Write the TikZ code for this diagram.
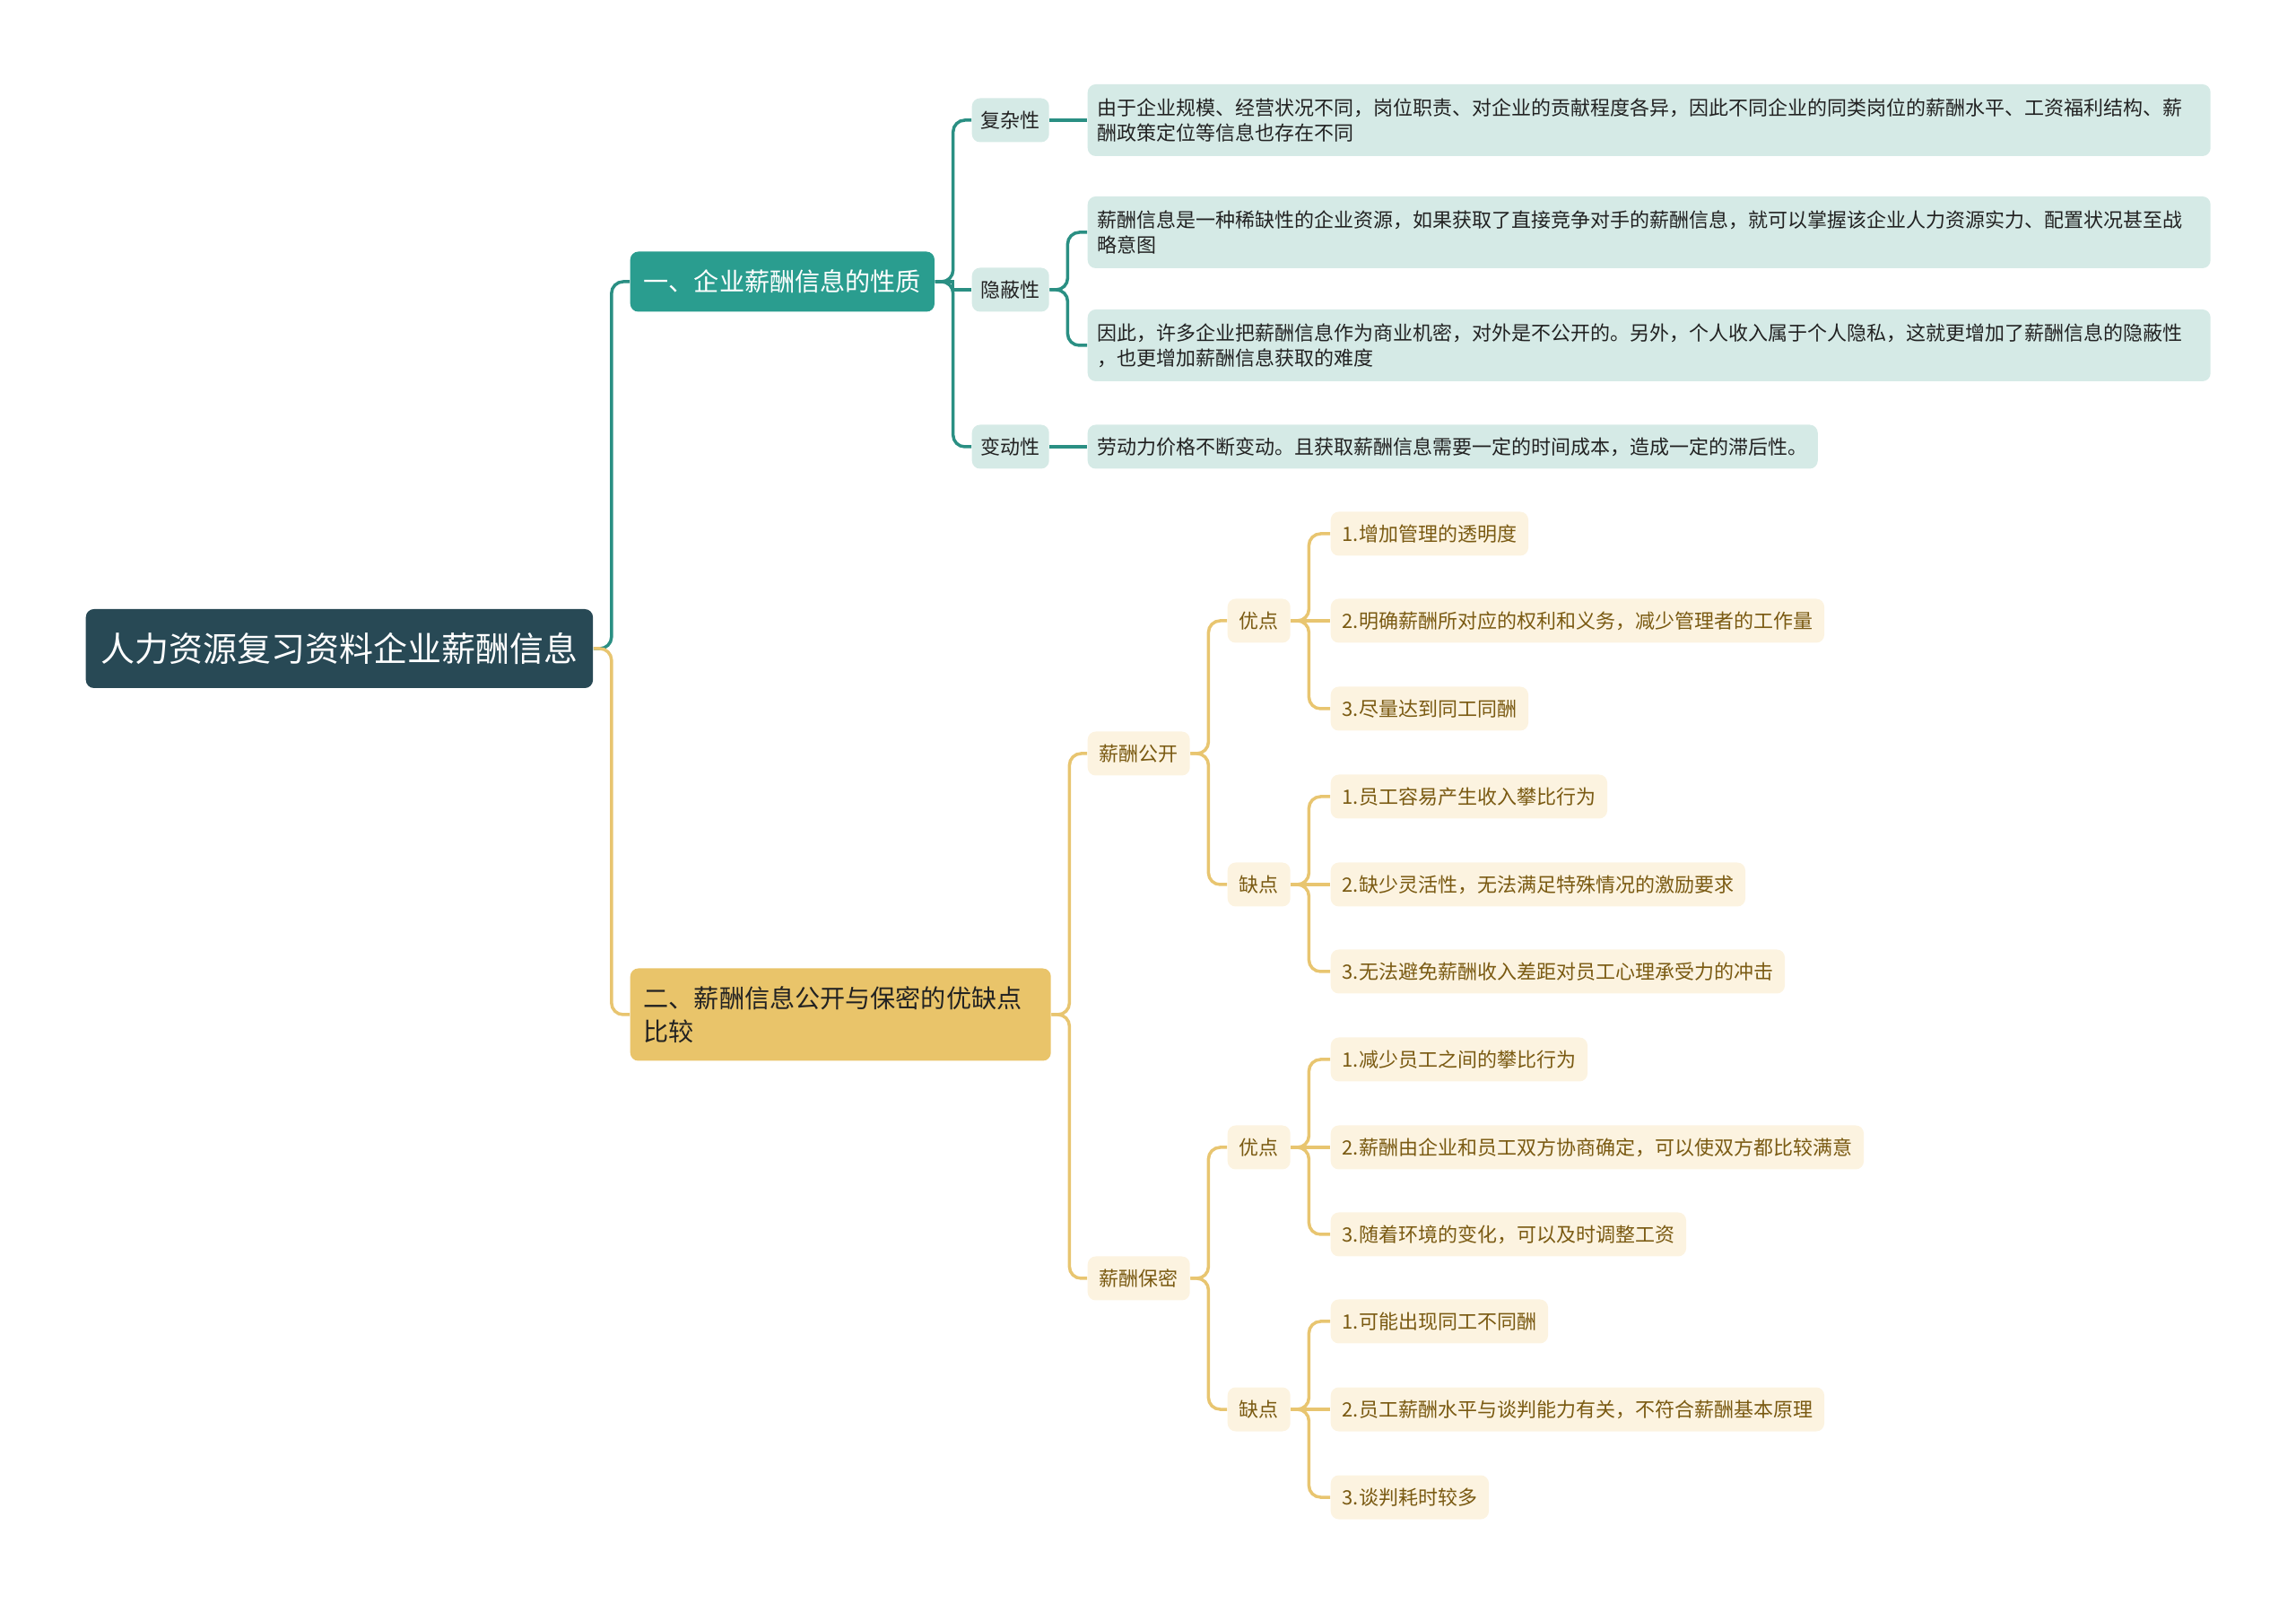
\documentclass[tikz,border=0pt]{standalone}
\usepackage{fontspec}
\setmainfont{Noto Sans CJK SC}
\definecolor{rootfill}{HTML}{284955}
\definecolor{tealmain}{HTML}{2A9D8F}
\definecolor{teallight}{HTML}{D5EAE6}
\definecolor{linkteal}{HTML}{2A8F83}
\definecolor{goldmain}{HTML}{E9C46A}
\definecolor{goldlight}{HTML}{FCF3E0}
\definecolor{linkgold}{HTML}{E8C570}
\definecolor{goldtext}{HTML}{7A5A12}
\definecolor{textdark}{HTML}{222222}

\begin{document}
\begin{tikzpicture}[
  mapbox/.style={rounded corners=0.09cm,inner xsep=0.13cm,inner ysep=0.1cm,anchor=west,
    font=\fontsize{6.26pt}{8pt}\selectfont,minimum height=0.49cm},
  rootbox/.style={mapbox,fill=rootfill,text=white,font=\fontsize{10.8pt}{13pt}\selectfont,
    minimum height=0.88cm,inner xsep=0.17cm},
  tealhead/.style={mapbox,fill=tealmain,text=white,font=\fontsize{8pt}{10.7pt}\selectfont,
    minimum height=0.67cm,inner xsep=0.15cm},
  goldhead/.style={mapbox,fill=goldmain,text=textdark,font=\fontsize{8pt}{10.7pt}\selectfont,
    minimum height=1.03cm,text width=4.39cm,align=left,inner xsep=0.15cm},
  tealsub/.style={mapbox,fill=teallight,text=textdark,inner xsep=0.1cm},
  tealnote/.style={tealsub,text width=12.3cm,align=left,inner xsep=0.11cm,minimum height=0.8cm},
  goldsub/.style={mapbox,fill=goldlight,text=goldtext},
  tealedge/.style={draw=linkteal,line width=0.035cm,rounded corners=0.13cm},
  goldedge/.style={draw=linkgold,line width=0.035cm,rounded corners=0.13cm}
]
  \useasboundingbox (0,0) rectangle (25.6,-17.88);
  \def\gap{0.2}

  \node[rootbox] (root) at (0.95,-7.23) {人力资源复习资料企业薪酬信息};

  \node[tealhead] (A) at (7.02,-3.14) {一、企业薪酬信息的性质};
  \node[goldhead] (B) at (7.02,-11.31) {二、薪酬信息公开与保密的优缺点\\比较};

  \node[tealsub] (A1) at (10.83,-1.34) {复杂性};
  \node[tealsub] (A2) at (10.83,-3.23) {隐蔽性};
  \node[tealsub] (A3) at (10.83,-4.98) {变动性};

  \node[tealnote] (A1a) at (12.12,-1.34) {由于企业规模、经营状况不同，岗位职责、对企业的贡献程度各异，因此不同企业的同类岗位的薪酬水平、工资福利结构、薪\\酬政策定位等信息也存在不同};
  \node[tealnote] (A2a) at (12.12,-2.59) {薪酬信息是一种稀缺性的企业资源，如果获取了直接竞争对手的薪酬信息，就可以掌握该企业人力资源实力、配置状况甚至战\\略意图};
  \node[tealnote] (A2b) at (12.12,-3.85) {因此，许多企业把薪酬信息作为商业机密，对外是不公开的。另外，个人收入属于个人隐私，这就更增加了薪酬信息的隐蔽性\\，也更增加薪酬信息获取的难度};
  \node[tealsub,inner xsep=0.11cm] (A3a) at (12.12,-4.98) {劳动力价格不断变动。且获取薪酬信息需要一定的时间成本，造成一定的滞后性。};

  \node[goldsub] (B1) at (12.12,-8.40) {薪酬公开};
  \node[goldsub] (B2) at (12.12,-14.25) {薪酬保密};

  \node[goldsub] (B1y) at (13.68,-6.92) {优点};
  \node[goldsub] (B1n) at (13.68,-9.86) {缺点};
  \node[goldsub] (B2y) at (13.68,-12.79) {优点};
  \node[goldsub] (B2n) at (13.68,-15.71) {缺点};

  \node[goldsub] (B1y1) at (14.83,-5.95) {1.增加管理的透明度};
  \node[goldsub] (B1y2) at (14.83,-6.92) {2.明确薪酬所对应的权利和义务，减少管理者的工作量};
  \node[goldsub] (B1y3) at (14.83,-7.90) {3.尽量达到同工同酬};
  \node[goldsub] (B1n1) at (14.83,-8.88) {1.员工容易产生收入攀比行为};
  \node[goldsub] (B1n2) at (14.83,-9.86) {2.缺少灵活性，无法满足特殊情况的激励要求};
  \node[goldsub] (B1n3) at (14.83,-10.83) {3.无法避免薪酬收入差距对员工心理承受力的冲击};
  \node[goldsub] (B2y1) at (14.83,-11.81) {1.减少员工之间的攀比行为};
  \node[goldsub] (B2y2) at (14.83,-12.79) {2.薪酬由企业和员工双方协商确定，可以使双方都比较满意};
  \node[goldsub] (B2y3) at (14.83,-13.76) {3.随着环境的变化，可以及时调整工资};
  \node[goldsub] (B2n1) at (14.83,-14.73) {1.可能出现同工不同酬};
  \node[goldsub] (B2n2) at (14.83,-15.71) {2.员工薪酬水平与谈判能力有关，不符合薪酬基本原理};
  \node[goldsub] (B2n3) at (14.83,-16.69) {3.谈判耗时较多};

  \draw[tealedge] (root.east) -- ++(\gap,0) |- (A.west);
  \draw[goldedge] (root.east) -- ++(\gap,0) |- (B.west);

  \draw[tealedge] (A.east) -- ++(\gap,0) |- (A1.west);
  \draw[tealedge,sharp corners] (A.east) -- ++(\gap,0) |- (A2.west);
  \draw[tealedge] (A.east) -- ++(\gap,0) |- (A3.west);
  \draw[tealedge] (A1.east) -- (A1a.west);
  \draw[tealedge] (A2.east) -- ++(\gap,0) |- (A2a.west);
  \draw[tealedge] (A2.east) -- ++(\gap,0) |- (A2b.west);
  \draw[tealedge] (A3.east) -- (A3a.west);

  \draw[goldedge] (B.east) -- ++(\gap,0) |- (B1.west);
  \draw[goldedge] (B.east) -- ++(\gap,0) |- (B2.west);
  \draw[goldedge] (B1.east) -- ++(\gap,0) |- (B1y.west);
  \draw[goldedge] (B1.east) -- ++(\gap,0) |- (B1n.west);
  \draw[goldedge] (B2.east) -- ++(\gap,0) |- (B2y.west);
  \draw[goldedge] (B2.east) -- ++(\gap,0) |- (B2n.west);
  \draw[goldedge] (B1y.east) -- ++(\gap,0) |- (B1y1.west);
  \draw[goldedge] (B1y.east) -- (B1y2.west);
  \draw[goldedge] (B1y.east) -- ++(\gap,0) |- (B1y3.west);
  \draw[goldedge] (B1n.east) -- ++(\gap,0) |- (B1n1.west);
  \draw[goldedge] (B1n.east) -- (B1n2.west);
  \draw[goldedge] (B1n.east) -- ++(\gap,0) |- (B1n3.west);
  \draw[goldedge] (B2y.east) -- ++(\gap,0) |- (B2y1.west);
  \draw[goldedge] (B2y.east) -- (B2y2.west);
  \draw[goldedge] (B2y.east) -- ++(\gap,0) |- (B2y3.west);
  \draw[goldedge] (B2n.east) -- ++(\gap,0) |- (B2n1.west);
  \draw[goldedge] (B2n.east) -- (B2n2.west);
  \draw[goldedge] (B2n.east) -- ++(\gap,0) |- (B2n3.west);
\end{tikzpicture}
\end{document}
